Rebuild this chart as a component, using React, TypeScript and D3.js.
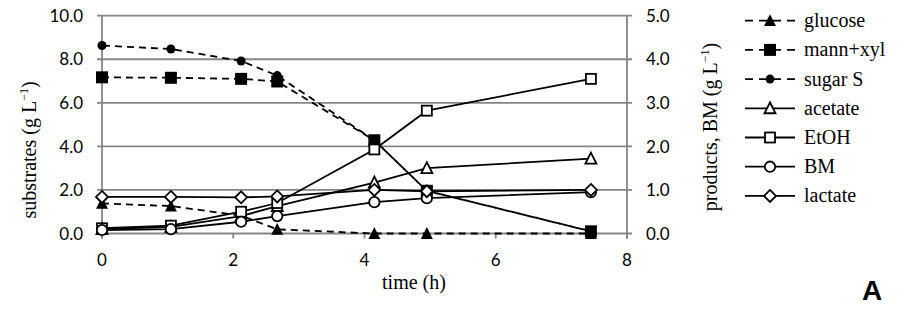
import React from "react";
import * as d3 from "d3";

const time = [0, 1.05, 2.12, 2.67, 4.15, 4.95, 7.45];
const glucose = [1.38, 1.26, 0.82, 0.19, 0, 0, 0];
const mannXyl = [7.17, 7.15, 7.1, 6.98, 4.28, 1.96, 0.1];
const sugarS = [8.63, 8.47, 7.92, 7.25, 4.28, 1.96, 0.1];
const acetate = [0.1, 0.15, 0.4, 0.63, 1.17, 1.5, 1.72];
const etoh = [0.12, 0.18, 0.5, 0.7, 1.93, 2.82, 3.55];
const bm = [0.08, 0.1, 0.27, 0.4, 0.72, 0.81, 0.95];
const lactate = [0.84, 0.84, 0.83, 0.85, 1.0, 0.97, 1.0];

const xTicks = [0, 2, 4, 6, 8];
const leftTicks = [0, 2, 4, 6, 8, 10];
const rightTicks = [0, 1, 2, 3, 4, 5];

type Series = { name: string; values: number[]; axis: "L" | "R"; dashed: boolean; marker: string; filled: boolean };

const series: Series[] = [
  { name: "glucose", values: glucose, axis: "L", dashed: true, marker: "triangle", filled: true },
  { name: "mann+xyl", values: mannXyl, axis: "L", dashed: true, marker: "square", filled: true },
  { name: "sugar S", values: sugarS, axis: "L", dashed: true, marker: "circle", filled: true },
  { name: "acetate", values: acetate, axis: "R", dashed: false, marker: "triangle", filled: false },
  { name: "EtOH", values: etoh, axis: "R", dashed: false, marker: "square", filled: false },
  { name: "BM", values: bm, axis: "R", dashed: false, marker: "circle", filled: false },
  { name: "lactate", values: lactate, axis: "R", dashed: false, marker: "diamond", filled: false },
];

const W = 899, H = 319;
const x0 = 102, x1 = 627, yTop = 15.7, yBot = 233.5;
const GRID = "#868686";
const DASH = 12;

function Marker({ type, filled, cx, cy }: { type: string; filled: boolean; cx: number; cy: number }) {
  const fill = filled ? "#000" : "#fff";
  const sw = filled ? 0 : 1.8;
  if (type === "triangle") {
    const s = filled ? 12 : 11;
    const h = s * 0.9;
    const p = `${cx},${cy - h / 2 - 1} ${cx - s / 2},${cy + h / 2} ${cx + s / 2},${cy + h / 2}`;
    return <polygon points={p} fill={fill} stroke="#000" strokeWidth={sw} />;
  }
  if (type === "square") {
    const s = filled ? 12 : 10;
    return <rect x={cx - s / 2} y={cy - s / 2} width={s} height={s} fill={fill} stroke="#000" strokeWidth={sw} />;
  }
  if (type === "circle") {
    const r = filled ? 4.5 : 5.2;
    return <circle cx={cx} cy={cy} r={r} fill={fill} stroke="#000" strokeWidth={sw} />;
  }
  const r = 6;
  const p = `${cx},${cy - r} ${cx + r},${cy} ${cx},${cy + r} ${cx - r},${cy}`;
  return <polygon points={p} fill={fill} stroke="#000" strokeWidth={sw} />;
}

export default function App() {
  const x = d3.scaleLinear().domain([0, 8]).range([x0, x1]);
  const yL = d3.scaleLinear().domain([0, 10]).range([yBot, yTop]);
  const yR = d3.scaleLinear().domain([0, 5]).range([yBot, yTop]);
  const tickFont = "Lato, 'Open Sans', sans-serif";
  const serif = "'Liberation Serif', 'DejaVu Serif', serif";

  // path length up to index k (pixel space)
  const lenTo = (vals: number[], k: number) => {
    let L = 0;
    for (let i = 1; i <= k; i++) {
      const dx = x(time[i]) - x(time[i - 1]);
      const dy = yL(vals[i]) - yL(vals[i - 1]);
      L += Math.hypot(dx, dy);
    }
    return L;
  };
  const sugarOffset = lenTo(mannXyl, 4) - lenTo(sugarS, 4) + 6;

  return (
    <svg width={W} height={H} style={{ position: "absolute", left: 0, top: 0, background: "#fff" }}>
      <rect x={0} y={0} width={W} height={H} fill="#fff" />
      {leftTicks.map((t) => (
        <line key={"g" + t} x1={x0 - 5} x2={x1 + 5} y1={yL(t)} y2={yL(t)} stroke={GRID} strokeWidth={1.8} />
      ))}
      <line x1={x0} x2={x0} y1={yTop} y2={yBot + 5} stroke={GRID} strokeWidth={1.8} />
      <line x1={x1} x2={x1} y1={yTop} y2={yBot + 5} stroke={GRID} strokeWidth={1.8} />
      {xTicks.map((t) => (
        <line key={"xt" + t} x1={x(t)} x2={x(t)} y1={yBot} y2={yBot + 5} stroke={GRID} strokeWidth={1.8} />
      ))}
      {leftTicks.map((t) => (
        <text key={"lt" + t} x={83} y={yL(t)} dy="0.36em" textAnchor="end" fontFamily={tickFont} fontSize={17} fill="#000">
          {t.toFixed(1)}
        </text>
      ))}
      {rightTicks.map((t) => (
        <text key={"rt" + t} x={646} y={yR(t)} dy="0.36em" textAnchor="start" fontFamily={tickFont} fontSize={17} fill="#000">
          {t.toFixed(1)}
        </text>
      ))}
      {xTicks.map((t) => (
        <text key={"xl" + t} x={x(t)} y={266} textAnchor="middle" fontFamily={tickFont} fontSize={17} fill="#000">
          {t}
        </text>
      ))}
      <text transform="translate(36,150) rotate(-90)" textAnchor="middle" fontFamily={serif} fontSize={20} fill="#000">
        substrates (g L<tspan dy="-8" fontSize={12}>−1</tspan><tspan dy="8">)</tspan>
      </text>
      <text transform="translate(717,127) rotate(-90)" textAnchor="middle" fontFamily={serif} fontSize={20} fill="#000">
        products, BM (g L<tspan dy="-8" fontSize={12}>−1</tspan><tspan dy="8">)</tspan>
      </text>
      <text x={414} y={289} textAnchor="middle" fontFamily={serif} fontSize={20} fill="#000">time (h)</text>
      {series.map((s) => {
        const y = s.axis === "L" ? yL : yR;
        const line = d3.line<number>().x((_, i) => x(time[i])).y((v) => y(v));
        return (
          <path key={"l" + s.name} d={line(s.values) || ""} fill="none" stroke="#000" strokeWidth={1.8}
            strokeDasharray={s.dashed ? `7,${DASH - 7}` : undefined}
            strokeDashoffset={s.name === "sugar S" ? sugarOffset : 0} />
        );
      })}
      {series.map((s) => {
        const y = s.axis === "L" ? yL : yR;
        return (
          <g key={"m" + s.name}>
            {s.values.map((v, i) => (
              <Marker key={i} type={s.marker} filled={s.filled} cx={x(time[i])} cy={y(v)} />
            ))}
          </g>
        );
      })}
      {series.map((s, i) => {
        const ly = 20.7 + i * 29.2;
        return (
          <g key={"lg" + s.name}>
            <line x1={745} x2={795} y1={ly} y2={ly} stroke="#000" strokeWidth={1.8} strokeDasharray={s.dashed ? "8,6" : undefined} />
            <Marker type={s.marker} filled={s.filled} cx={770} cy={ly} />
            <text x={804} y={ly} dy="0.32em" fontFamily={serif} fontSize={20} fill="#000">{s.name}</text>
          </g>
        );
      })}
      <text x={872} y={300} textAnchor="middle" fontFamily="'Liberation Sans', Arial, sans-serif" fontWeight="bold" fontSize={28} fill="#000">A</text>
    </svg>
  );
}
